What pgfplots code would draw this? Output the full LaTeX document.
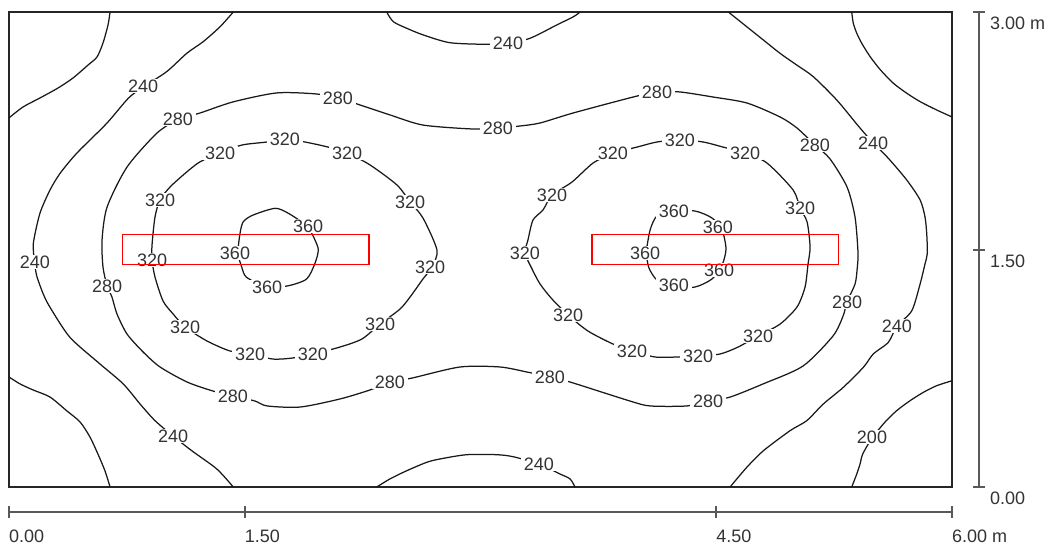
\documentclass[border=0pt]{standalone}
\usepackage{fontspec}
\setmainfont{Liberation Sans}
\usepackage{pgfplots}
\pgfplotsset{compat=1.18}
\tikzset{
  lbl/.style={fill=white, inner xsep=3pt, inner ysep=1pt, text=black!80},
  sc/.style={black!65, line width=2pt},
  ax/.style={anchor=base west, inner sep=0pt, text=black!80},
}
\pgfplotsset{iso/.style={black!90, line width=1.25pt, smooth, tension=0.45, mark=none}}
\begin{document}
\begin{tikzpicture}[font=\fontsize{18}{21}\selectfont]
\useasboundingbox (-9pt,-57pt) rectangle (1043pt,487pt);
\begin{axis}[
  scale only axis, width=943pt, height=475pt,
  xmin=0, xmax=6, ymin=0, ymax=3,
  axis line style={black!85, line width=1.6pt},
  xtick=\empty, ytick=\empty,
  clip=false,
]
% 200 level (corners)
\addplot[iso] coordinates {(0.643,3.0)(0.630,2.918)(0.598,2.804)(0.560,2.716)(0.503,2.665)(0.407,2.583)(0.312,2.520)(0.197,2.457)(0.089,2.400)(0,2.331)};
\addplot[iso] coordinates {(0,0.695)(0.070,0.651)(0.153,0.613)(0.261,0.568)(0.369,0.480)(0.452,0.411)(0.515,0.316)(0.566,0.208)(0.611,0.101)(0.643,0)};
\addplot[iso] coordinates {(5.362,3.0)(5.372,2.929)(5.394,2.866)(5.426,2.802)(5.479,2.718)(5.545,2.634)(5.627,2.550)(5.712,2.487)(5.797,2.434)(5.903,2.381)(6.0,2.337)};
\addplot[iso] coordinates {(6.0,0.671)(5.903,0.640)(5.818,0.598)(5.733,0.545)(5.648,0.482)(5.573,0.409)(5.491,0.309)(5.432,0.208)(5.415,0.145)(5.394,0.082)(5.362,0)};
% 240 level
\addplot[iso] coordinates {(1.427,3.0)(1.343,2.907)(1.236,2.813)(1.131,2.739)(1.003,2.623)(0.853,2.526)(0.759,2.455)(0.622,2.297)(0.431,2.108)(0.325,1.981)(0.261,1.876)(0.197,1.729)(0.155,1.539)(0.163,1.421)(0.176,1.335)(0.218,1.219)(0.261,1.135)(0.388,0.945)(0.579,0.777)(0.727,0.651)(0.834,0.524)(0.929,0.419)(1.044,0.322)(1.163,0.229)(1.322,0.114)(1.427,0)};
\addplot[iso] coordinates {(4.577,3.0)(4.694,2.907)(4.800,2.823)(4.906,2.739)(5.012,2.665)(5.118,2.591)(5.267,2.444)(5.404,2.280)(5.498,2.173)(5.595,2.076)(5.712,1.939)(5.797,1.813)(5.828,1.707)(5.839,1.602)(5.843,1.476)(5.828,1.408)(5.797,1.282)(5.744,1.113)(5.650,1.017)(5.595,0.914)(5.499,0.840)(5.436,0.756)(5.309,0.630)(5.181,0.524)(5.076,0.419)(4.970,0.356)(4.800,0.229)(4.694,0.124)(4.588,0)};
\addplot[iso] coordinates {(2.403,3.0)(2.445,2.939)(2.531,2.897)(2.636,2.855)(2.806,2.806)(3.040,2.796)(3.175,2.804)(3.315,2.834)(3.485,2.918)(3.591,2.970)(3.634,3.0)};
\addplot[iso] coordinates {(2.340,0)(2.424,0.051)(2.531,0.103)(2.658,0.156)(2.742,0.177)(2.912,0.204)(3.103,0.204)(3.209,0.191)(3.372,0.145)(3.506,0.082)(3.570,0.051)(3.601,0)};
% 280 level
\addplot[iso] coordinates {(1.075,2.324)(1.215,2.362)(1.425,2.432)(1.705,2.489)(1.960,2.482)(2.093,2.457)(2.233,2.413)(2.424,2.350)(2.634,2.286)(2.952,2.261)(3.111,2.267)(3.252,2.280)(3.379,2.299)(3.589,2.362)(3.971,2.463)(4.123,2.495)(4.269,2.495)(4.480,2.463)(4.696,2.425)(4.906,2.337)(5.014,2.267)(5.128,2.160)(5.224,2.072)(5.332,1.895)(5.383,1.705)(5.402,1.478)(5.396,1.371)(5.383,1.282)(5.332,1.168)(5.307,1.080)(5.243,0.954)(5.052,0.764)(4.798,0.651)(4.588,0.568)(4.448,0.543)(4.314,0.512)(4.079,0.512)(3.951,0.543)(3.570,0.663)(3.442,0.695)(3.296,0.726)(3.124,0.758)(2.870,0.758)(2.564,0.688)(2.424,0.663)(2.297,0.613)(2.106,0.556)(1.852,0.505)(1.642,0.512)(1.565,0.543)(1.425,0.575)(1.298,0.606)(1.133,0.663)(0.961,0.758)(0.853,0.853)(0.751,0.966)(0.687,1.093)(0.655,1.200)(0.624,1.270)(0.598,1.390)(0.592,1.560)(0.624,1.768)(0.751,2.021)(0.942,2.236)(1.075,2.324)};
% 320 level
\addplot[iso] coordinates {(1.343,2.110)(1.483,2.160)(1.642,2.179)(1.756,2.198)(1.883,2.179)(2.030,2.147)(2.151,2.110)(2.297,2.034)(2.469,1.907)(2.552,1.800)(2.634,1.699)(2.723,1.497)(2.692,1.390)(2.634,1.314)(2.552,1.200)(2.488,1.124)(2.361,1.029)(2.246,0.935)(2.106,0.884)(1.934,0.840)(1.807,0.815)(1.680,0.808)(1.534,0.840)(1.406,0.859)(1.260,0.922)(1.120,1.011)(1.044,1.093)(0.980,1.175)(0.929,1.326)(0.910,1.434)(0.910,1.528)(0.929,1.705)(0.961,1.813)(1.037,1.907)(1.203,2.046)(1.343,2.110)};
\addplot[iso] coordinates {(3.843,2.110)(3.996,2.147)(4.123,2.179)(4.269,2.192)(4.416,2.179)(4.543,2.147)(4.683,2.110)(4.823,2.046)(4.989,1.876)(5.033,1.762)(5.078,1.674)(5.097,1.516)(5.084,1.408)(5.065,1.263)(5.014,1.137)(4.906,1.029)(4.766,0.954)(4.639,0.884)(4.524,0.840)(4.384,0.827)(4.251,0.821)(4.111,0.821)(3.964,0.859)(3.843,0.903)(3.684,0.985)(3.557,1.086)(3.455,1.187)(3.379,1.282)(3.328,1.377)(3.283,1.478)(3.302,1.560)(3.334,1.686)(3.398,1.750)(3.455,1.844)(3.582,1.926)(3.716,2.046)(3.843,2.110)};
% 360 level
\addplot[iso] coordinates {(1.903,1.648)(1.947,1.560)(1.968,1.497)(1.947,1.413)(1.894,1.314)(1.777,1.271)(1.642,1.263)(1.512,1.324)(1.481,1.388)(1.457,1.478)(1.470,1.602)(1.491,1.676)(1.554,1.718)(1.693,1.760)(1.777,1.729)(1.903,1.648)};
\addplot[iso] coordinates {(4.053,1.478)(4.079,1.623)(4.123,1.712)(4.225,1.743)(4.365,1.743)(4.473,1.699)(4.537,1.623)(4.562,1.503)(4.537,1.402)(4.473,1.314)(4.365,1.263)(4.225,1.263)(4.123,1.307)(4.072,1.383)(4.053,1.478)};
% labels
\node[lbl] at (axis cs:0.853,2.533) {240};
\node[lbl] at (axis cs:0.165,1.421) {240};
\node[lbl] at (axis cs:1.044,0.322) {240};
\node[lbl] at (axis cs:3.175,2.804) {240};
\node[lbl] at (axis cs:3.372,0.145) {240};
\node[lbl] at (axis cs:5.498,2.173) {240};
\node[lbl] at (axis cs:5.650,1.017) {240};
\node[lbl] at (axis cs:5.491,0.316) {200};
\node[lbl] at (axis cs:1.075,2.324) {280};
\node[lbl] at (axis cs:2.093,2.457) {280};
\node[lbl] at (axis cs:3.111,2.267) {280};
\node[lbl] at (axis cs:4.123,2.495) {280};
\node[lbl] at (axis cs:5.128,2.160) {280};
\node[lbl] at (axis cs:5.332,1.168) {280};
\node[lbl] at (axis cs:4.448,0.543) {280};
\node[lbl] at (axis cs:3.442,0.695) {280};
\node[lbl] at (axis cs:2.424,0.663) {280};
\node[lbl] at (axis cs:1.425,0.575) {280};
\node[lbl] at (axis cs:0.624,1.270) {280};
\node[lbl] at (axis cs:1.343,2.110) {320};
\node[lbl] at (axis cs:1.756,2.198) {320};
\node[lbl] at (axis cs:2.151,2.110) {320};
\node[lbl] at (axis cs:2.552,1.800) {320};
\node[lbl] at (axis cs:2.679,1.390) {320};
\node[lbl] at (axis cs:2.361,1.029) {320};
\node[lbl] at (axis cs:1.934,0.840) {320};
\node[lbl] at (axis cs:1.534,0.840) {320};
\node[lbl] at (axis cs:1.120,1.011) {320};
\node[lbl] at (axis cs:0.910,1.434) {320};
\node[lbl] at (axis cs:0.961,1.813) {320};
\node[lbl] at (axis cs:1.903,1.648) {360};
\node[lbl] at (axis cs:1.438,1.478) {360};
\node[lbl] at (axis cs:1.642,1.263) {360};
\node[lbl] at (axis cs:3.843,2.110) {320};
\node[lbl] at (axis cs:4.269,2.192) {320};
\node[lbl] at (axis cs:4.683,2.110) {320};
\node[lbl] at (axis cs:5.033,1.762) {320};
\node[lbl] at (axis cs:4.766,0.954) {320};
\node[lbl] at (axis cs:4.384,0.827) {320};
\node[lbl] at (axis cs:3.964,0.859) {320};
\node[lbl] at (axis cs:3.557,1.086) {320};
\node[lbl] at (axis cs:3.283,1.478) {320};
\node[lbl] at (axis cs:3.455,1.844) {320};
\node[lbl] at (axis cs:4.231,1.743) {360};
\node[lbl] at (axis cs:4.511,1.642) {360};
\node[lbl] at (axis cs:4.047,1.478) {360};
\node[lbl] at (axis cs:4.518,1.371) {360};
\node[lbl] at (axis cs:4.231,1.276) {360};
% luminaires
\addplot[red, line width=1.2pt, mark=none] coordinates {(0.72,1.405)(2.29,1.405)(2.29,1.595)(0.72,1.595)(0.72,1.405)};
\addplot[red, line width=1.2pt, mark=none] coordinates {(3.71,1.405)(5.28,1.405)(5.28,1.595)(3.71,1.595)(3.71,1.405)};
% scales
\draw[sc] ([yshift=-25pt]axis cs:0,0) -- ([yshift=-25pt]axis cs:6,0);
\draw[sc] ([yshift=-19pt]axis cs:0,0) -- ([yshift=-31pt]axis cs:0,0);
\draw[sc] ([yshift=-19pt]axis cs:1.5,0) -- ([yshift=-31pt]axis cs:1.5,0);
\draw[sc] ([yshift=-19pt]axis cs:4.5,0) -- ([yshift=-31pt]axis cs:4.5,0);
\draw[sc] ([yshift=-19pt]axis cs:6,0) -- ([yshift=-31pt]axis cs:6,0);
\draw[sc] ([xshift=27pt]axis cs:6,0) -- ([xshift=27pt]axis cs:6,3);
\draw[sc] ([xshift=21pt]axis cs:6,0) -- ([xshift=33pt]axis cs:6,0);
\draw[sc] ([xshift=21pt]axis cs:6,1.5) -- ([xshift=33pt]axis cs:6,1.5);
\draw[sc] ([xshift=21pt]axis cs:6,3) -- ([xshift=33pt]axis cs:6,3);
\node[ax] at ([yshift=-55pt]axis cs:0,0) {0.00};
\node[ax] at ([yshift=-55pt]axis cs:1.5,0) {1.50};
\node[ax] at ([yshift=-55pt]axis cs:4.5,0) {4.50};
\node[ax] at ([yshift=-55pt]axis cs:6,0) {6.00 m};
\node[ax] at ([xshift=38pt,yshift=-17.5pt]axis cs:6,3) {3.00 m};
\node[ax] at ([xshift=38pt,yshift=-17.5pt]axis cs:6,1.5) {1.50};
\node[ax] at ([xshift=38pt,yshift=-17.5pt]axis cs:6,0) {0.00};
\end{axis}
\end{tikzpicture}
\end{document}
